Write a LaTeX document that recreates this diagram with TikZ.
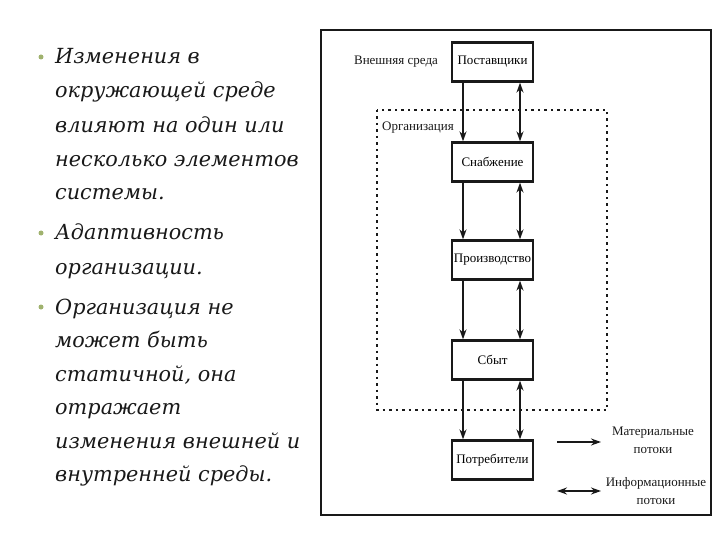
\documentclass[tikz,border=0pt]{standalone}
\usepackage{fontspec}
\setmainfont{Liberation Serif}
\newfontfamily\bodyfont{DejaVu Serif}
\usetikzlibrary{arrows.meta}
\definecolor{bulletgreen}{RGB}{160,178,110}
\definecolor{ink}{RGB}{25,25,25}
\tikzset{
  bodytext/.style={anchor=base west, inner sep=0pt, font=\bodyfont\fontsize{20.8}{24}\selectfont\itshape, text=ink},
  bulletdot/.style={circle, fill=bulletgreen, inner sep=0pt, minimum size=5pt},
  unitbox/.style={draw=ink, line width=2.2pt, minimum width=81pt, minimum height=39pt, inner sep=0pt, font=\fontsize{13}{14}\selectfont, fill=white},
  smalllabel/.style={inner sep=0pt, font=\fontsize{13}{14}\selectfont, text=ink},
  legendtext/.style={inner sep=0pt, font=\fontsize{13}{15}\selectfont, text=ink, align=center},
  matflow/.style={draw=ink, line width=2pt, -{Stealth[length=10pt,width=7pt]}},
  infoflow/.style={draw=ink, line width=2pt, {Stealth[length=10pt,width=7pt]}-{Stealth[length=10pt,width=7pt]}},
}
\begin{document}
\begin{tikzpicture}[x=1pt,y=-1pt]
\useasboundingbox (0,0) rectangle (720,540);
% left text
\node[bulletdot] (b1) at (41,57) {};
\node[bodytext] (t1) at (55,64) {Изменения в};
\node[bodytext] (t2) at (55,98) {окружающей среде};
\node[bodytext] (t3) at (55,133) {влияют на один или};
\node[bodytext] (t4) at (55,167) {несколько элементов};
\node[bodytext] (t5) at (55,200) {системы.};
\node[bulletdot] (b2) at (41,233) {};
\node[bodytext] (t6) at (55,240) {Адаптивность};
\node[bodytext] (t7) at (55,274) {организации.};
\node[bulletdot] (b3) at (41,307) {};
\node[bodytext] (t8) at (55,314) {Организация не};
\node[bodytext] (t9) at (55,347) {может быть};
\node[bodytext] (t10) at (55,381) {статичной, она};
\node[bodytext] (t11) at (55,414) {отражает};
\node[bodytext] (t12) at (55,448) {изменения внешней и};
\node[bodytext] (t13) at (55,481) {внутренней среды.};
% frames
\draw[draw=ink, line width=2.4pt] (321,30) rectangle (711,515);
\draw[draw=ink, line width=2.4pt, dash pattern=on 2.5pt off 4pt] (377,110) rectangle (607,410);
% labels
\node[smalllabel] (ext) at (396,62) {Внешняя среда};
\node[smalllabel] (org) at (418,128) {Организация};
% boxes
\node[unitbox] (p) at (492.5,62) {Поставщики};
\node[unitbox] (s) at (492.5,162) {Снабжение};
\node[unitbox] (pr) at (492.5,260) {Производство};
\node[unitbox] (sb) at (492.5,360) {Сбыт};
\node[unitbox] (c) at (492.5,460) {Потребители};
\coordinate (lx) at (463,0);
\coordinate (rx) at (520,0);
\foreach \a/\b in {p/s, s/pr, pr/sb, sb/c}{
  \draw[matflow] (\a.south -| lx) -- (\b.north -| lx);
  \draw[infoflow] (\a.south -| rx) -- (\b.north -| rx);
}
% legend
\coordinate (m1) at (557,442);
\coordinate (m2) at (601,442);
\coordinate (i1) at (557,491);
\coordinate (i2) at (601,491);
\draw[matflow] (m1) -- (m2);
\draw[infoflow] (i1) -- (i2);
\node[legendtext] (ml) at (653,440) {Материальные\\[3pt]потоки};
\node[legendtext] (il) at (656,491) {Информационные\\[3pt]потоки};
\end{tikzpicture}
\end{document}
